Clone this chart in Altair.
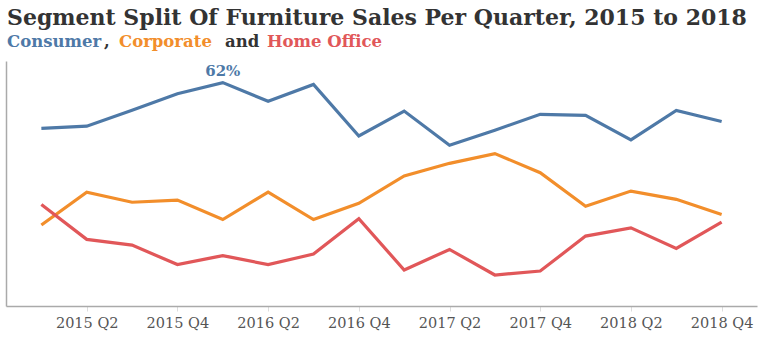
import altair as alt
import pandas as pd

quarters = ["2015 Q1", "2015 Q2", "2015 Q3", "2015 Q4",
            "2016 Q1", "2016 Q2", "2016 Q3", "2016 Q4",
            "2017 Q1", "2017 Q2", "2017 Q3", "2017 Q4",
            "2018 Q1", "2018 Q2", "2018 Q3", "2018 Q4"]
tick_labels = ["2015 Q2", "2015 Q4", "2016 Q2", "2016 Q4",
               "2017 Q2", "2017 Q4", "2018 Q2", "2018 Q4"]

consumer = [0.493, 0.499, 0.543, 0.589, 0.620, 0.568, 0.615, 0.472,
            0.541, 0.446, 0.488, 0.532, 0.529, 0.461, 0.543, 0.512]
corporate = [0.225, 0.316, 0.288, 0.294, 0.240, 0.316, 0.240, 0.285,
             0.361, 0.396, 0.423, 0.370, 0.277, 0.319, 0.296, 0.254]
home_office = [0.282, 0.185, 0.169, 0.115, 0.140, 0.115, 0.144, 0.242,
               0.100, 0.157, 0.086, 0.097, 0.194, 0.217, 0.160, 0.233]

segments = ["Consumer", "Corporate", "Home Office"]
colors = ["#4e79a7", "#f28e2b", "#e15759"]

rows = []
for seg, vals in zip(segments, [consumer, corporate, home_office]):
    for q, v in zip(quarters, vals):
        rows.append({"quarter": q, "segment": seg, "share": v})
df = pd.DataFrame(rows)

SERIF = "DejaVu Serif"

base = alt.Chart(df).encode(
    x=alt.X("quarter:O", sort=quarters,
            scale=alt.Scale(type="point", padding=0.78),
            axis=alt.Axis(values=tick_labels, labelAngle=0, title=None,
                          domainColor="#aaaaaa", domainWidth=1.5,
                          tickColor="#dddddd", tickSize=5,
                          labelFont=SERIF, labelFontSize=14.5, labelColor="#555555",
                          labelPadding=5)),
    y=alt.Y("share:Q", scale=alt.Scale(domain=[0, 0.68], nice=False, zero=False),
            axis=alt.Axis(labels=False, ticks=False, grid=False, title=None,
                          domainColor="#aaaaaa", domainWidth=1.5)),
    color=alt.Color("segment:N", scale=alt.Scale(domain=segments, range=colors), legend=None),
)

lines = base.mark_line(strokeWidth=3.2)

peak = base.transform_filter(
    (alt.datum.segment == "Consumer") & (alt.datum.quarter == "2016 Q1")
).mark_text(dy=-4, baseline="bottom", font=SERIF, fontWeight="bold", fontSize=15).encode(
    text=alt.Text("share:Q", format=".0%")
)

one = pd.DataFrame({"a": [0]})
title = alt.Chart(one).mark_text(
    align="left", baseline="alphabetic", font=SERIF, fontWeight="bold",
    fontSize=22, color="#333333"
).encode(x=alt.value(1), y=alt.value(-36),
         text=alt.value("Segment Split Of Furniture Sales Per Quarter, 2015 to 2018"))

def sub(txt, xpos, col):
    return alt.Chart(one).mark_text(
        align="left", baseline="alphabetic", font=SERIF, fontWeight="bold",
        fontSize=16.5, color=col
    ).encode(x=alt.value(xpos), y=alt.value(-14), text=alt.value(txt))

subs = [
    sub("Consumer", 1, colors[0]),
    sub(",", 98, "#333333"),
    sub("Corporate", 113, colors[1]),
    sub("and", 219, "#333333"),
    sub("Home Office", 261, colors[2]),
]

chart = alt.layer(lines, peak, title, *subs).properties(
    width=751, height=245,
    autosize=alt.AutoSizeParams(type="none"),
    padding={"left": 6, "top": 61, "right": 11, "bottom": 36},
    background="white",
).configure_view(stroke=None)

chart.save("out.html", embed_options={"renderer": "svg", "actions": False})
